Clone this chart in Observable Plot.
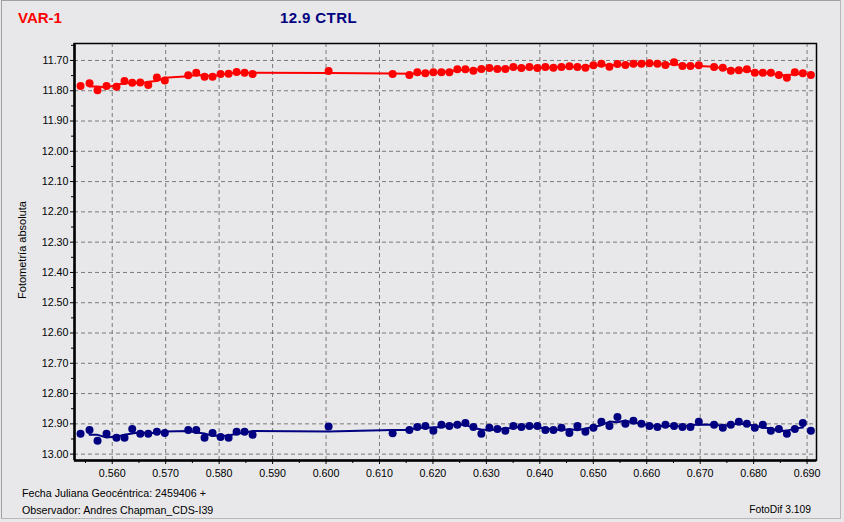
<!DOCTYPE html>
<html><head><meta charset="utf-8">
<script src="https://cdn.jsdelivr.net/npm/d3@7"></script>
<script src="https://cdn.jsdelivr.net/npm/@observablehq/plot@0.6"></script>
<style>
html,body{margin:0;padding:0;background:#e8e8ea;}
#win{position:relative;width:844px;height:522px;overflow:hidden;background:#e8e8ea;font-family:"Liberation Sans",Arial,sans-serif;color:#000;}
#border{position:absolute;left:1px;top:0px;width:840px;height:519px;border:1px solid #a0a0a0;border-right-color:#b8b8b8;border-bottom-color:#b8b8b8;box-sizing:border-box;}
.t{position:absolute;white-space:nowrap;}
#chart{position:absolute;left:0;top:0;}
</style></head>
<body>
<div id="win">
  <div id="border"></div>
  <div id="chart"></div>
  <div class="t" id="title1" style="left:18px;top:9px;font-size:15px;font-weight:bold;color:#ff0000;line-height:18px;">VAR-1</div>
  <div class="t" id="title2" style="left:280px;top:9px;font-size:15px;font-weight:bold;color:#000080;line-height:18px;letter-spacing:0.4px;">12.9 CTRL</div>
  <div class="t" id="ylab" style="left:22px;top:250px;font-size:11px;transform:translate(-50%,-50%) rotate(-90deg);">Fotometría absoluta</div>
  <div class="t" style="left:22px;top:486px;font-size:10.7px;line-height:14px;">Fecha Juliana Geocéntrica: 2459406 +</div>
  <div class="t" style="left:22px;top:503px;font-size:10.7px;line-height:14px;">Observador: Andres Chapman_CDS-I39</div>
  <div class="t" style="right:33px;top:503px;font-size:10.3px;line-height:14px;">FotoDif 3.109</div>
</div>
<script>
const jd = [
  0.55407, 0.55575, 0.55725, 0.55893, 0.56080, 0.56230, 0.56374, 0.56524, 0.56674, 0.56835, 0.56984,
  0.57422, 0.57572, 0.57727, 0.57877, 0.58027, 0.58177, 0.58327, 0.58476, 0.58626,
  0.60048, 0.61246,
  0.61559, 0.61708, 0.61858, 0.62008, 0.62158, 0.62307, 0.62457, 0.62607, 0.62757, 0.62906, 0.63056, 0.63206, 0.63355, 0.63505, 0.63655, 0.63805, 0.63954, 0.64104,
  0.64254, 0.64404, 0.64553, 0.64703, 0.64853, 0.65003, 0.65152, 0.65302, 0.65452, 0.65601, 0.65751, 0.65901, 0.66051, 0.66200, 0.66350, 0.66511, 0.66668, 0.66818, 0.66974,
  0.67260, 0.67423, 0.67573, 0.67723, 0.67873, 0.68022, 0.68172, 0.68322, 0.68472, 0.68622, 0.68771, 0.68921, 0.69071
];
const varMag = [
  11.784, 11.775, 11.798, 11.784, 11.787, 11.768, 11.774, 11.773, 11.781, 11.756, 11.766,
  11.749, 11.741, 11.754, 11.754, 11.745, 11.744, 11.738, 11.741, 11.745,
  11.735, 11.745,
  11.748, 11.739, 11.742, 11.739, 11.739, 11.739, 11.729, 11.729, 11.734, 11.728, 11.725, 11.728, 11.728, 11.722, 11.725, 11.722, 11.725, 11.722,
  11.724, 11.722, 11.719, 11.722, 11.724, 11.716, 11.711, 11.721, 11.712, 11.715, 11.711, 11.711, 11.709, 11.711, 11.715, 11.706, 11.718, 11.718, 11.716,
  11.722, 11.724, 11.734, 11.732, 11.729, 11.741, 11.741, 11.741, 11.748, 11.757, 11.739, 11.742, 11.748
];
const ctrlMag = [
  12.933, 12.920, 12.956, 12.933, 12.946, 12.946, 12.917, 12.933, 12.933, 12.926, 12.930,
  12.920, 12.920, 12.946, 12.930, 12.943, 12.946, 12.926, 12.926, 12.936,
  12.909, 12.931,
  12.920, 12.910, 12.907, 12.923, 12.903, 12.907, 12.903, 12.897, 12.910, 12.933, 12.913, 12.917, 12.923, 12.907, 12.910, 12.907, 12.907, 12.920,
  12.920, 12.913, 12.930, 12.907, 12.926, 12.913, 12.893, 12.907, 12.877, 12.900, 12.890, 12.900, 12.907, 12.910, 12.903, 12.907, 12.910, 12.910, 12.893,
  12.903, 12.913, 12.903, 12.893, 12.900, 12.913, 12.903, 12.923, 12.917, 12.933, 12.917, 12.897, 12.923
];
const xTicks = [0.560, 0.570, 0.580, 0.590, 0.600, 0.610, 0.620, 0.630, 0.640, 0.650, 0.660, 0.670, 0.680, 0.690];
const xMinorTicks = [0.555, 0.565, 0.575, 0.585, 0.595, 0.605, 0.615, 0.625, 0.635, 0.645, 0.655, 0.665, 0.675, 0.685];
const yTicks = [11.70, 11.80, 11.90, 12.00, 12.10, 12.20, 12.30, 12.40, 12.50, 12.60, 12.70, 12.80, 12.90, 13.00];
const yMinorTicks = [11.65, 11.75, 11.85, 11.95, 12.05, 12.15, 12.25, 12.35, 12.45, 12.55, 12.65, 12.75, 12.85, 12.95];
const xDomain = [0.55294, 0.69176];
const yDomain = [11.644, 13.021];

const rows = jd.map((x, i) => ({x, v: varMag[i], c: ctrlMag[i]}));

const grid = {stroke: "#7a7a7a", strokeOpacity: 1, strokeDasharray: "4,3", strokeWidth: 1};

const chart = Plot.plot({
  width: 844,
  height: 480,
  marginLeft: 74,
  marginRight: 28,
  marginTop: 43,
  marginBottom: 20,
  style: {background: "transparent", fontFamily: "'Liberation Sans', Arial, sans-serif", fontSize: "10.7px", color: "#000"},
  x: {domain: xDomain, label: null},
  y: {domain: yDomain, reverse: true, label: null},
  marks: [
    Plot.gridX(xTicks, grid),
    Plot.gridY(yTicks, grid),
    Plot.axisY(yTicks, {anchor: "left", tickSize: 4, tickPadding: 2, tickFormat: d => d.toFixed(2), label: null, fontSize: 10.7}),
    Plot.axisY(yMinorTicks, {anchor: "left", tickSize: 3, tickFormat: () => "", label: null}),
    Plot.axisX(xTicks, {anchor: "bottom", tickSize: 4, tickPadding: 5, tickFormat: d => d.toFixed(3), label: null, fontSize: 10.7}),
    Plot.axisX(xMinorTicks, {anchor: "bottom", tickSize: 3, tickFormat: () => "", label: null}),
    Plot.line(rows, Plot.windowY({k: 3, strict: true, x: "x", y: "v", stroke: "#ff0000", strokeWidth: 2})),
    Plot.line(rows, Plot.windowY({k: 3, strict: true, x: "x", y: "c", stroke: "#000080", strokeWidth: 2})),
    Plot.dot(rows, {x: "x", y: "v", r: 4, fill: "#ff0000", stroke: "none"}),
    Plot.dot(rows, {x: "x", y: "c", r: 4, fill: "#000080", stroke: "none"}),
    Plot.frame({stroke: "#000", strokeWidth: 1.5}),
    Plot.ruleX([xDomain[0]], {stroke: "#000", strokeWidth: 2.5}),
    Plot.ruleY([yDomain[1]], {stroke: "#000", strokeWidth: 2.5})
  ]
});
document.getElementById("chart").appendChild(chart);
</script>
</body></html>
